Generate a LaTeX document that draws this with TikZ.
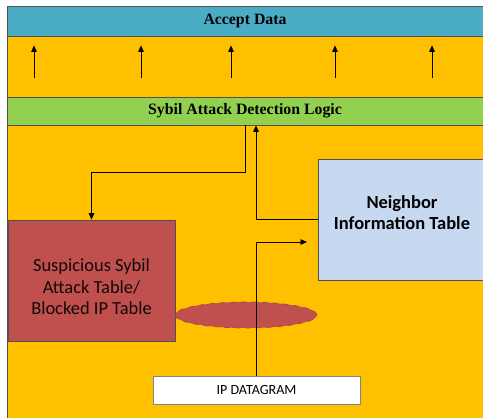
\documentclass[tikz,border=0pt]{standalone}
\usepackage{fontspec}
\setmainfont{Carlito}
\newfontfamily\barfont{Liberation Serif}
\usetikzlibrary{arrows.meta, calc, shapes.geometric}

\definecolor{barblue}{HTML}{4BACC6}
\definecolor{baryellow}{HTML}{FFC000}
\definecolor{bargreen}{HTML}{92D050}
\definecolor{blockred}{HTML}{C0504D}
\definecolor{tableblue}{HTML}{C6D9F1}
\definecolor{edgegray}{HTML}{505050}

\tikzset{
  bar/.style      = {rectangle, draw=edgegray, minimum width=9.52cm, inner sep=0pt,
                     font=\barfont\bfseries\fontsize{9}{11}\selectfont},
  tbl/.style      = {rectangle, draw=edgegray, minimum width=3.34cm, minimum height=2.42cm},
  tbltext/.style  = {align=center, inner sep=0pt},
  flow/.style     = {-{Triangle[length=1.3mm, width=1.1mm]}, line width=0.5pt},
}

\begin{document}
\begin{tikzpicture}[x=0.02cm, y=-0.02cm]
  \useasboundingbox (0,0) rectangle (483,418);
  % ---- backdrop
  \fill[baryellow] (7,6) rectangle (483,418);
  \draw[edgegray] (7,418) -- (7,6) -- (483,6);
  % ---- top bars
  \node[bar, fill=barblue, minimum height=0.6cm] (accept) at (245,21) {Accept Data};
  \node[bar, fill=bargreen, minimum height=0.56cm] (detect) at (245,111) {Sybil Attack Detection Logic};
  \foreach \x [count=\i] in {34,141,231,335,432} {
    \coordinate (up\i) at (\x,78);
    \draw[flow, shorten >=0.18cm] (up\i) -- (up\i |- accept.south);
  }
  % ---- tables (text placed off-centre, as in the boxes)
  \node[tbl, fill=blockred] (susp) at (91.5,280.5) {};
  \node[tbltext, text=black!90!blockred, font=\fontsize{10.5}{12.2}\selectfont]
        (susp-txt) at ([yshift=-0.13cm]susp.center)
        {Suspicious Sybil\\Attack Table/\\Blocked IP Table};
  \node[tbl, fill=tableblue] (nit) at (402,219.5) {};
  \node[tbltext, font=\bfseries\fontsize{10.5}{11.9}\selectfont]
        (nit-txt) at ([yshift=0.14cm]nit.center)
        {Neighbor\\Information Table};
  \node[ellipse, fill=blockred, draw=blockred!85!black, dashed,
        minimum width=2.84cm, minimum height=0.52cm] (blob) at (246,315) {};
  \node[rectangle, fill=white, draw=edgegray!70, minimum width=4.14cm,
        minimum height=0.56cm, font=\fontsize{8}{10}\selectfont] (ipd) at (256.5,390) {IP DATAGRAM};
  % ---- connectors
  \coordinate (tap) at (256,0);
  \coordinate (feed) at (307,242);
  \draw[flow] (detect.south) -- ++(0,47) -| (susp.north);
  \draw[flow] (nit.west) -| (tap |- detect.south);
  \draw[flow] (tap |- ipd.north) |- (feed);
\end{tikzpicture}
\end{document}
